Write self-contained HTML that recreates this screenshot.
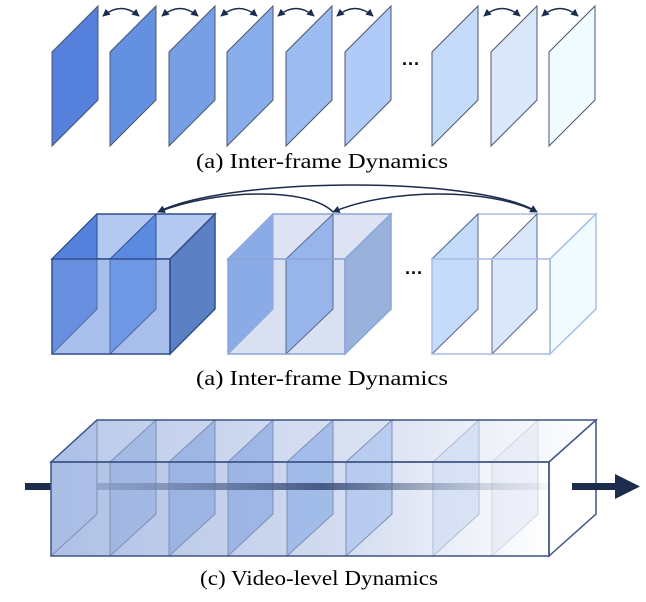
<!DOCTYPE html>
<html><head><meta charset="utf-8"><style>html,body{margin:0;padding:0;background:#fff}svg{display:block}</style></head>
<body>
<svg width="646" height="602" viewBox="0 0 646 602" xmlns="http://www.w3.org/2000/svg">
<defs>
<marker id="ah" viewBox="0 0 10 10" refX="9" refY="5" markerWidth="5" markerHeight="5" orient="auto-start-reverse"><path d="M0,0L10,5L0,10z" fill="#1c2c4c"/></marker>
<linearGradient id="boxg" x1="0" x2="1" y1="0" y2="0"><stop offset="0" stop-color="#aec0e6"/><stop offset="0.6" stop-color="#d4ddf0"/><stop offset="1" stop-color="#ffffff"/></linearGradient>
<linearGradient id="topg" x1="0" x2="1" y1="0" y2="0"><stop offset="0" stop-color="#b9c9ea"/><stop offset="0.6" stop-color="#dbe2f2"/><stop offset="1" stop-color="#ffffff"/></linearGradient>
<linearGradient id="lineg" x1="0" x2="1" y1="0" y2="0"><stop offset="0" stop-color="#8092b8" stop-opacity="0.6"/><stop offset="0.5" stop-color="#3c5079" stop-opacity="0.9"/><stop offset="1" stop-color="#a0a8b8" stop-opacity="0.1"/></linearGradient>
</defs>
<g stroke="#4a5670" stroke-width="1">
<polygon points="52,52 98,6 98,100 52,146" fill="#5580dc"/>
<polygon points="110,52 156,6 156,100 110,146" fill="#6490e0"/>
<polygon points="169,52 215,6 215,100 169,146" fill="#779fe6"/>
<polygon points="227,52 273,6 273,100 227,146" fill="#8aaeeb"/>
<polygon points="286,52 332,6 332,100 286,146" fill="#9cbbf0"/>
<polygon points="345,52 391,6 391,100 345,146" fill="#b0cbf7"/>
<polygon points="432,52 478,6 478,100 432,146" fill="#c5dbfa"/>
<polygon points="491,52 537,6 537,100 491,146" fill="#dbe8fc"/>
<polygon points="549,52 595,6 595,100 549,146" fill="#f0fbff"/>
</g>
<g fill="none" stroke="#1c2c4c" stroke-width="1.5" marker-start="url(#ah)" marker-end="url(#ah)">
<path d="M103,16 Q121,1 139,16"/><path d="M162,16 Q180,1 198,16"/><path d="M221,16 Q239,1 257,16"/><path d="M278,16 Q296,1 314,16"/><path d="M337,16 Q355,1 373,16"/><path d="M484,16 Q502,1 520,16"/><path d="M542,16 Q560,1 578,16"/>
</g>
<text x="411" y="70" font-family="Liberation Sans" font-size="18" font-weight="bold" text-anchor="middle">···</text>
<text x="196" y="168" font-family="Liberation Serif" font-size="21" textLength="252" lengthAdjust="spacingAndGlyphs">(a) Inter-frame Dynamics</text>

<!-- cube1 -->
<g>
<polygon points="52,259 97,214 215,214 170,259" fill="#b4c9f0" stroke="#2f4f8f" stroke-width="1.5"/>
<rect x="52" y="259" width="118" height="95" fill="#a9bfeb"/>
<polygon points="52,259 97,214 97,309 52,354" fill="#5580dc" stroke="#2f4f8f"/>
<polygon points="110,259 156,214 156,309 110,354" fill="#5b8be0" stroke="#2f4f8f"/>
<polygon points="170,259 215,214 215,309 170,354" fill="#5b80c4" stroke="#2f4f8f" stroke-width="1.5"/>
<rect x="52" y="259" width="118" height="95" fill="#a9bfeb" fill-opacity="0.25" stroke="#2f4f8f" stroke-width="1.5"/>
</g>
<!-- cube2 -->
<g>
<polygon points="228,259 273,214 391,214 345,259" fill="#dde3f2" stroke="#8ba5d8" stroke-width="1.5"/>
<rect x="228" y="259" width="117" height="95" fill="#d8e0f1"/>
<polygon points="228,259 273,214 273,309 228,354" fill="#8aabe6" stroke="#8ba5d8"/>
<polygon points="286,259 333,214 333,309 286,354" fill="#97b5ea" stroke="#5a6a88"/>
<polygon points="345,259 391,214 391,309 345,354" fill="#98b2dc" stroke="#8ba5d8" stroke-width="1.5"/>
<rect x="228" y="259" width="117" height="95" fill="none" stroke="#8ba5d8" stroke-width="1.5"/>
</g>
<!-- cube3 -->
<g>
<polygon points="432,259 478,214 596,214 550,259" fill="#fff" stroke="#a9bde8" stroke-width="1.5"/>
<rect x="432" y="259" width="118" height="95" fill="#fff"/>
<polygon points="432,259 478,214 478,309 432,354" fill="#c5dbfa" stroke="#5a6a88"/>
<polygon points="492,259 537,214 537,309 492,354" fill="#dbe8fc" stroke="#5a6a88"/>
<polygon points="550,259 596,214 596,309 550,354" fill="#f0fbff" stroke="#a9bde8" stroke-width="1.5"/>
<rect x="432" y="259" width="118" height="95" fill="none" stroke="#a9bde8" stroke-width="1.5"/>
</g>
<text x="405" y="279" font-family="Liberation Sans" font-size="18" font-weight="bold">···</text>
<g fill="none" stroke="#1c2c4c" stroke-width="1.5">
<path d="M537,212 C480,176 230,176 158,212" marker-start="url(#ah)" marker-end="url(#ah)"/>
<path d="M333,212 C310,188 220,188 158,212" marker-end="url(#ah)"/>
<path d="M537,212 C490,188 390,188 333,212" marker-start="url(#ah)" marker-end="url(#ah)"/>
</g>
<text x="196" y="385" font-family="Liberation Serif" font-size="21" textLength="252" lengthAdjust="spacingAndGlyphs">(a) Inter-frame Dynamics</text>

<!-- row3 -->
<rect x="25" y="483" width="27" height="7" fill="#1c2c4c"/>
<polygon points="51,462 97,420 596,420 549,462" fill="url(#topg)"/>
<rect x="51" y="462" width="498" height="94" fill="url(#boxg)"/>
<g stroke="#7d8fb5" stroke-width="1">
<polygon points="51,462 97,420 97,514 51,556" fill="#a7bbe4" fill-opacity="0.6"/>
<polygon points="110,462 156,420 156,514 110,556" fill="#98b0e0" fill-opacity="0.7"/>
<polygon points="169,462 215,420 215,514 169,556" fill="#90acdf" fill-opacity="0.75"/>
<polygon points="228,462 273,420 273,514 228,556" fill="#92aee2" fill-opacity="0.8"/>
<polygon points="287,462 333,420 333,514 287,556" fill="#9ab6e8" fill-opacity="0.85"/>
<polygon points="346,462 392,420 392,514 346,556" fill="#b0c7ef" fill-opacity="0.8"/>
<polygon points="433,462 479,420 479,514 433,556" fill="#cfdcf2" fill-opacity="0.7" stroke="#b0bdd8"/>
<polygon points="492,462 538,420 538,514 492,556" fill="#e2e8f4" fill-opacity="0.6" stroke="#d0d6e2"/>
</g>
<rect x="97" y="483" width="452" height="7" fill="url(#lineg)"/>
<g fill="none" stroke="#3d5486" stroke-width="1.5">
<polygon points="51,462 97,420 596,420 549,462"/>
<polygon points="549,462 596,420 596,514 549,556"/>
<rect x="51" y="462" width="498" height="94"/>
</g>
<rect x="572" y="483" width="45" height="7" fill="#1c2c4c"/>
<polygon points="615,474 640,486.5 615,499" fill="#1c2c4c"/>
<text x="200" y="585" font-family="Liberation Serif" font-size="21" textLength="238" lengthAdjust="spacingAndGlyphs">(c) Video-level Dynamics</text>
</svg>
</body></html>
